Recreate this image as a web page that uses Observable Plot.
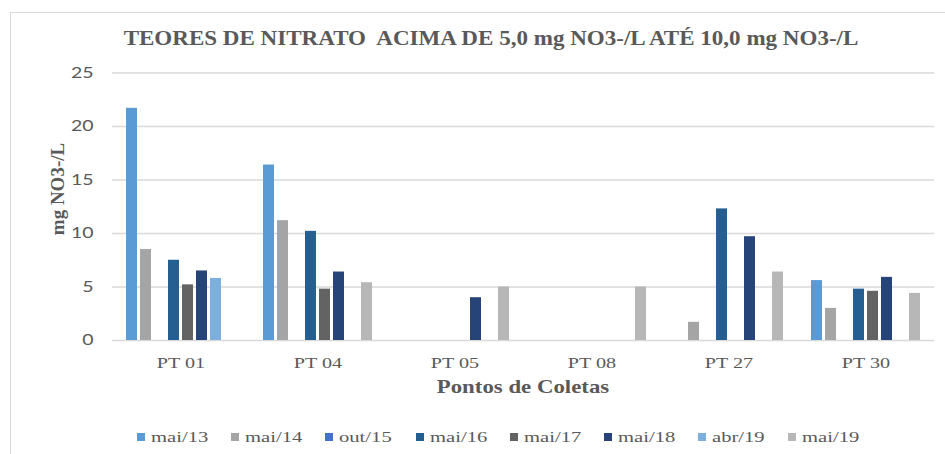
<!DOCTYPE html>
<html>
<head>
<meta charset="utf-8">
<script src="https://cdn.jsdelivr.net/npm/d3@7"></script>
<script src="https://cdn.jsdelivr.net/npm/@observablehq/plot@0.6"></script>
<style>
html, body { margin: 0; padding: 0; background: #fff; }
#wrap { position: relative; width: 945px; height: 454px; overflow: hidden; background: #fff; }
#frame { position: absolute; left: 10px; top: 12px; width: 1000px; height: 1000px; border-left: 1.3px solid #d9d9d9; border-top: 1.3px solid #d9d9d9; }
#chart { position: absolute; left: 0; top: 0; }
.lbl { position: absolute; white-space: nowrap; color: #595959; font-family: "Liberation Serif", "Times New Roman", serif; line-height: 1; display: inline-block; transform-origin: center center; }
.sq { position: absolute; width: 8px; height: 8px; }
.ltxt { position: absolute; white-space: nowrap; color: #595959; font-family: "Liberation Serif", "Times New Roman", serif; font-size: 15.5px; line-height: 1; display: inline-block; transform-origin: left center; }
</style>
</head>
<body>
<div id="wrap">
  <div id="frame"></div>
  <div id="chart"></div>
  <div class="lbl" id="title" style="left:491px; top:28px; font-size:21px; font-weight:bold;">TEORES DE NITRATO&nbsp; ACIMA DE 5,0 mg NO3-/L ATÉ 10,0 mg NO3-/L</div>
  <div class="lbl" id="ylabel" style="left:57px; top:189px; font-size:19px; font-weight:bold;">mg NO3-/L</div>
  <div class="lbl" id="xlabel" style="left:523px; top:377px; font-size:19px; font-weight:bold;">Pontos de Coletas</div>
  <div id="legend"></div>
</div>
<script>
// ---- data ----
const points = ["PT 01", "PT 04", "PT 05", "PT 08", "PT 27", "PT 30"];
const series = ["mai/13", "mai/14", "out/15", "mai/16", "mai/17", "mai/18", "abr/19", "mai/19"];
const colors = ["#5B9BD5", "#A5A5A5", "#4472C4", "#255E91", "#636363", "#264478", "#7CAFDD", "#B7B7B7"];
const yTicks = [0, 5, 10, 15, 20, 25];

const mai13 = [21.7, 16.4, null, null, null, 5.6];
const mai14 = [8.5, 11.2, null, null, 1.7, 3.0];
const out15 = [null, null, null, null, null, null];
const mai16 = [7.5, 10.2, null, null, 12.3, 4.8];
const mai17 = [5.2, 4.8, null, null, null, 4.6];
const mai18 = [6.5, 6.4, 4.0, null, 9.7, 5.9];
const abr19 = [5.8, null, null, null, null, null];
const mai19 = [null, 5.4, 5.0, 5.0, 6.4, 4.4];

const seriesValues = [mai13, mai14, out15, mai16, mai17, mai18, abr19, mai19];
const data = [];
series.forEach((s, i) => {
  seriesValues[i].forEach((v, j) => {
    if (v != null) data.push({point: points[j], series: s, value: v});
  });
});

// ---- chart ----
const plot = Plot.plot({
  width: 945,
  height: 454,
  marginLeft: 111,
  marginRight: 10,
  marginTop: 72.5,
  marginBottom: 114,
  style: {color: "#595959", background: "transparent"},
  fx: {domain: points, padding: 0, axis: null},
  x: {domain: series, paddingInner: 0.2, paddingOuter: 0.87, axis: null},
  y: {domain: [0, 25], axis: null},
  color: {domain: series, range: colors},
  marks: [
    Plot.gridY(yTicks, {stroke: "#d9d9d9", strokeOpacity: 1, strokeWidth: 1.3}),
    Plot.axisY(yTicks, {tickSize: 0, tickPadding: 19, fontSize: 15, fontFamily: "Lato, 'Open Sans', sans-serif", label: null}),
    Plot.barY(data, {fx: "point", x: "series", y: "value", fill: "series"}),
    Plot.axisFx({anchor: "bottom", tickSize: 0, tickPadding: 16, fontSize: 15.5, fontFamily: "'Liberation Serif', 'Times New Roman', serif", label: null})
  ]
});
document.getElementById("chart").appendChild(plot);

// stretch tick labels horizontally to match the reference proportions
plot.querySelectorAll('g[aria-label$="tick label"] text').forEach(t => {
  const w = t.getComputedTextLength();
  if (w > 0) {
    t.setAttribute("textLength", (w * 1.3).toFixed(2));
    t.setAttribute("lengthAdjust", "spacingAndGlyphs");
  }
});

// ---- html texts ----
function fit(id, target, extra) {
  const el = document.getElementById(id);
  const w = el.offsetWidth;
  el.style.transform = extra(target / w);
}
fit("title", 735, k => `translateX(-50%) scaleX(${k})`);
fit("xlabel", 173, k => `translateX(-50%) scaleX(${k})`);
fit("ylabel", 92, k => `translate(-50%, -50%) rotate(-90deg) scaleX(${k})`);

// ---- legend ----
const legend = document.getElementById("legend");
let lx = 137;
series.forEach((s, i) => {
  const sq = document.createElement("div");
  sq.className = "sq";
  sq.style.left = lx + "px";
  sq.style.top = "432.5px";
  sq.style.background = colors[i];
  legend.appendChild(sq);
  const tx = document.createElement("div");
  tx.className = "ltxt";
  tx.textContent = s;
  tx.style.left = (lx + 14) + "px";
  tx.style.top = "428.5px";
  legend.appendChild(tx);
  const w = tx.offsetWidth;
  const k = 1.33;
  tx.style.transform = `scaleX(${k})`;
  lx += 14 + w * k + 23;
});
</script>
</body>
</html>
